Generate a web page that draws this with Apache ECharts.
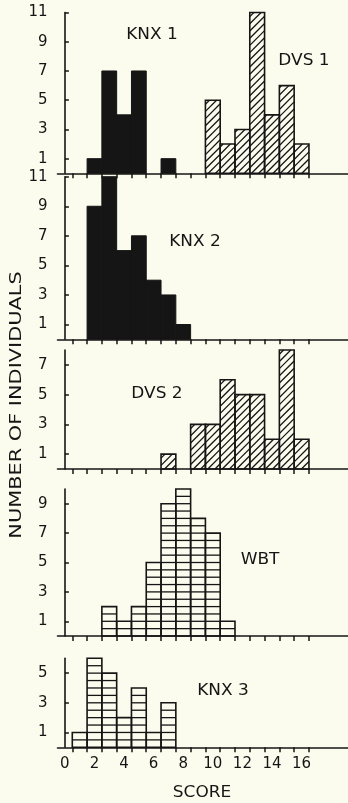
<!DOCTYPE html>
<html>
<head>
<meta charset="utf-8">
<script src="https://cdn.jsdelivr.net/npm/echarts@6/dist/echarts.min.js"></script>
<style>
  html, body { margin: 0; padding: 0; background: #fcfcee; }
  #chart { width: 348px; height: 803px; }
</style>
</head>
<body>
<div id="chart"></div>
<script>
// ---- data (index = score) ----
const scores = [0, 1, 2, 3, 4, 5, 6, 7, 8, 9, 10, 11, 12, 13, 14, 15, 16, 17];
const knx1 = [0, 0, 1, 7, 4, 7, 0, 1, 0, 0, 0, 0, 0, 0, 0, 0, 0, 0];
const dvs1 = [0, 0, 0, 0, 0, 0, 0, 0, 0, 0, 5, 2, 3, 11, 4, 6, 2, 0];
const knx2 = [0, 0, 9, 11, 6, 7, 4, 3, 1, 0, 0, 0, 0, 0, 0, 0, 0, 0];
const dvs2 = [0, 0, 0, 0, 0, 0, 0, 1, 0, 3, 3, 6, 5, 5, 2, 8, 2, 0];
const wbt  = [0, 0, 0, 2, 1, 2, 5, 9, 10, 8, 7, 1, 0, 0, 0, 0, 0, 0];
const knx3 = [0, 1, 6, 5, 2, 4, 1, 3, 0, 0, 0, 0, 0, 0, 0, 0, 0, 0];

const xTickLabels = [0, 2, 4, 6, 8, 10, 12, 14, 16];
const xTickMarks = [0.5, 1.5, 2.5, 3.5, 4.5, 5.5, 6.5, 7.5, 8.5, 9.5, 10.5, 11.5, 12.5, 13.5, 14.5, 15.5, 16.5];
const yTicks1 = [1, 3, 5, 7, 9, 11];
const yTicks2 = [1, 3, 5, 7, 9, 11];
const yTicks3 = [1, 3, 5, 7];
const yTicks4 = [1, 3, 5, 7, 9];
const yTicks5 = [1, 3, 5];
const yMax = [11, 11, 8, 10, 6];

const INK = '#151515';
const BG = '#fcfcee';
const FONT = 'DejaVu Sans';

// ---- layout ----
const panels = [
  { top: 12.5, height: 160.8 },
  { top: 176.7, height: 162.6 },
  { top: 350, height: 119 },
  { top: 489, height: 147 },
  { top: 658.3, height: 89 }
];
const yTickSets = [yTicks1, yTicks2, yTicks3, yTicks4, yTicks5];

const grids = panels.map(p => ({ left: 57.5, right: 0, top: p.top, height: p.height }));

const xAxes = panels.map((p, i) => ({
  type: 'value', gridIndex: i, min: -0.5, max: 19.14,
  axisLine: { show: true, lineStyle: { color: INK, width: 1.6 } },
  axisTick: { show: true, inside: false, length: 5, customValues: xTickMarks, lineStyle: { color: INK, width: 1.5 } },
  axisLabel: i === 4 ? { show: true, customValues: xTickLabels, margin: 9, color: INK, fontFamily: FONT, fontSize: 15 } : { show: false },
  splitLine: { show: false }
}));

const yAxes = panels.map((p, i) => ({
  type: 'value', gridIndex: i, min: 0, max: yMax[i],
  axisLine: { show: true, lineStyle: { color: INK, width: 1.6 } },
  axisTick: { show: true, inside: true, length: 4, customValues: yTickSets[i], lineStyle: { color: INK, width: 1.5 } },
  axisLabel: { show: true, customValues: yTickSets[i], margin: 10, color: INK, fontFamily: FONT, fontSize: 15 },
  splitLine: { show: false }
}));

function makeSeries(idx, values, kind) {
  return {
    type: 'custom',
    xAxisIndex: idx, yAxisIndex: idx,
    clip: false,
    data: values.map((v, i) => [scores[i], v]).filter(d => d[1] > 0),
    renderItem: function (params, api) {
      const s = api.value(0), v = api.value(1);
      const p0 = api.coord([s - 0.5, 0]);
      const p1 = api.coord([s + 0.5, v]);
      const x0 = p0[0], x1 = p1[0], yb = p0[1], yt = p1[1];
      const children = [];
      if (kind === 'solid') {
        children.push({ type: 'rect', shape: { x: x0, y: yt, width: x1 - x0, height: yb - yt },
          style: { fill: INK, stroke: INK, lineWidth: 1 } });
      } else {
        if (kind === 'hatch') {
          const P = 7.2;
          const cMin = Math.ceil((x0 + yt) / P) * P;
          for (let c = cMin; c <= x1 + yb; c += P) {
            const xs = Math.max(x0, c - yb), xe = Math.min(x1, c - yt);
            if (xe > xs) {
              children.push({ type: 'line', shape: { x1: xs, y1: c - xs, x2: xe, y2: c - xe },
                style: { stroke: INK, lineWidth: 1.3 } });
            }
          }
        } else if (kind === 'rows') {
          for (let k = 0.5; k < v; k += 0.5) {
            const y = api.coord([s, k])[1];
            children.push({ type: 'line', shape: { x1: x0, y1: y, x2: x1, y2: y },
              style: { stroke: INK, lineWidth: 1.3 } });
          }
        }
        children.push({ type: 'rect', shape: { x: x0, y: yt, width: x1 - x0, height: yb - yt },
          style: { fill: 'none', stroke: INK, lineWidth: 1.6 } });
      }
      return { type: 'group', children: children };
    }
  };
}

function label(text, x, y, sx) {
  return { type: 'text', x: x, y: y, scaleX: sx || 1.13,
    style: { text: text, fill: INK, font: '15px "' + FONT + '"', align: 'center', verticalAlign: 'middle' } };
}

const option = {
  backgroundColor: BG,
  animation: false,
  grid: grids,
  xAxis: xAxes,
  yAxis: yAxes,
  series: [
    makeSeries(0, knx1, 'solid'),
    makeSeries(0, dvs1, 'hatch'),
    makeSeries(1, knx2, 'solid'),
    makeSeries(2, dvs2, 'hatch'),
    makeSeries(3, wbt, 'rows'),
    makeSeries(4, knx3, 'rows')
  ],
  graphic: [
    label('KNX 1', 152, 35.5),
    label('DVS 1', 304, 61),
    label('KNX 2', 195, 242),
    label('DVS 2', 157, 394),
    label('WBT', 260, 560),
    label('KNX 3', 223, 691),
    label('SCORE', 202, 793),
    { type: 'text', x: 17, y: 405, rotation: Math.PI / 2, scaleX: 1.39,
      style: { text: 'NUMBER OF INDIVIDUALS', fill: INK, font: '15px "' + FONT + '"', align: 'center', verticalAlign: 'middle' } }
  ]
};

const chart = echarts.init(document.getElementById('chart'), null, { renderer: 'canvas' });
chart.setOption(option);
</script>
</body>
</html>
